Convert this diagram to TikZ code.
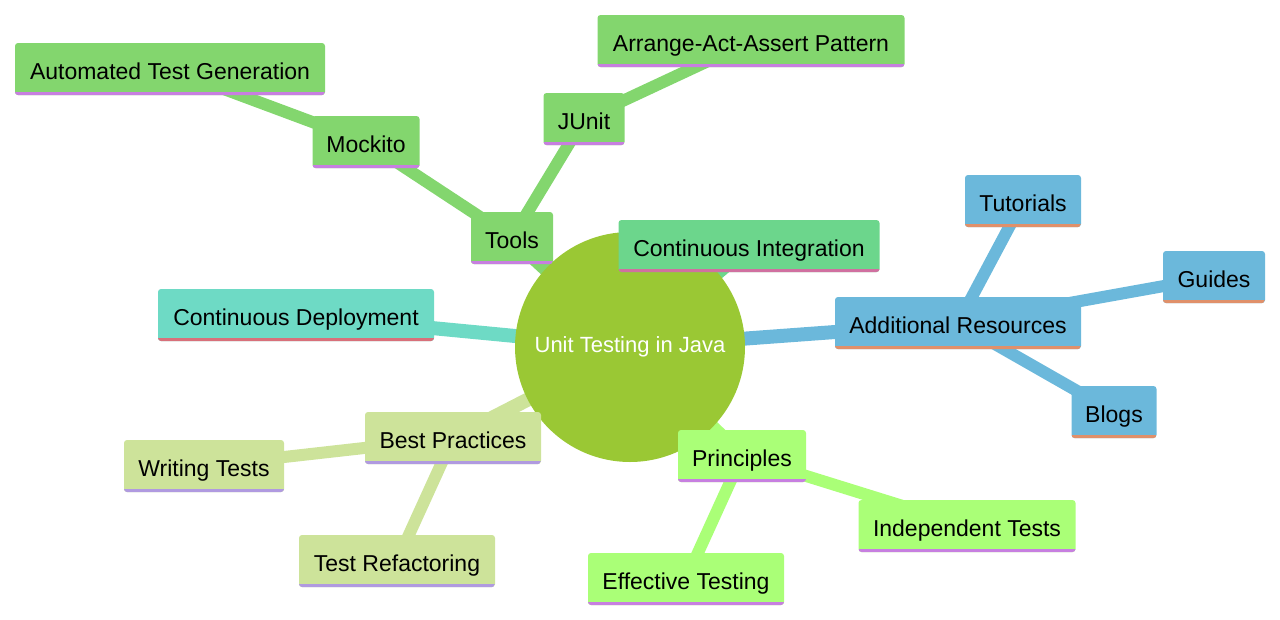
\documentclass[tikz,border=0pt]{standalone}
\usepackage{fontspec}
\setmainfont{Liberation Sans}
\definecolor{gT}{HTML}{83D66E}
\definecolor{uT}{HTML}{C77FE0}
\definecolor{gCI}{HTML}{6CD68C}
\definecolor{uCI}{HTML}{D070A0}
\definecolor{tCD}{HTML}{6EDAC5}
\definecolor{uCD}{HTML}{D8707A}
\definecolor{bA}{HTML}{6BB8DB}
\definecolor{uA}{HTML}{E0906A}
\definecolor{gP}{HTML}{AAFF77}
\definecolor{uP}{HTML}{C77FE0}
\definecolor{gB}{HTML}{CDE39A}
\definecolor{uB}{HTML}{B09AE0}
\definecolor{cC}{HTML}{9AC834}
\begin{document}
\begin{tikzpicture}[x=1pt,y=-1pt,
  box/.style 2 args={rectangle,rounded corners=3pt,fill=#1,minimum height=52pt,inner sep=0pt,
    font=\fontsize{23}{26}\selectfont,text height=22pt,text depth=2pt,
    path picture={\draw[#2,line width=6pt] (path picture bounding box.south west) -- (path picture bounding box.south east);}},
  e1/.style={line width=14pt},
  e2/.style={line width=12pt}]
\useasboundingbox (0,0) rectangle (1280,619);
\coordinate (c) at (630,347);
\coordinate (tools) at (512,238);
\coordinate (mock) at (366,142);
\coordinate (atg) at (170,69);
\coordinate (junit) at (584,119);
\coordinate (aaa) at (751,41);
\coordinate (ci) at (749,246);
\coordinate (cd) at (296,315);
\coordinate (ar) at (958,323);
\coordinate (tut) at (1023,201);
\coordinate (gui) at (1214,277);
\coordinate (blo) at (1114,412);
\coordinate (pri) at (742,456);
\coordinate (ind) at (967,526);
\coordinate (eff) at (686,579);
\coordinate (bp) at (453,438);
\coordinate (wt) at (204,466);
\coordinate (tr) at (397,561);
% edges
\draw[e1,gT] (c) -- (tools);
\draw[e2,gT] (tools) -- (mock); \draw[e2,gT] (mock) -- (atg);
\draw[e2,gT] (tools) -- (junit); \draw[e2,gT] (junit) -- (aaa);
\draw[e1,gCI] (c) -- (ci);
\draw[e1,tCD] (c) -- (cd);
\draw[e1,bA] (c) -- (ar);
\draw[e2,bA] (ar) -- (tut); \draw[e2,bA] (ar) -- (gui); \draw[e2,bA] (ar) -- (blo);
\draw[e1,gP] (c) -- (pri);
\draw[e2,gP] (pri) -- (ind); \draw[e2,gP] (pri) -- (eff);
\draw[e1,gB] (c) -- (bp);
\draw[e2,gB] (bp) -- (wt); \draw[e2,gB] (bp) -- (tr);
\node[circle,fill=cC,minimum size=230pt,text=white,font=\fontsize{22}{24}\selectfont] (center) at (c) {Unit Testing in Java};
\node[box={gT}{uT},minimum width=82pt] (nTools) at (tools) {Tools};
\node[box={gT}{uT},minimum width=107pt] (nMock) at (mock) {Mockito};
\node[box={gT}{uT},minimum width=310pt] (nAtg) at (atg) {Automated Test Generation};
\node[box={gT}{uT},minimum width=81pt] (nJunit) at (junit) {JUnit};
\node[box={gT}{uT},minimum width=307pt] (nAaa) at (aaa) {Arrange-Act-Assert Pattern};
\node[box={gCI}{uCI},minimum width=261pt] (nCi) at (ci) {Continuous Integration};
\node[box={tCD}{uCD},minimum width=276pt] (nCd) at (cd) {Continuous Deployment};
\node[box={bA}{uA},minimum width=246pt] (nAr) at (ar) {Additional Resources};
\node[box={bA}{uA},minimum width=116pt] (nTut) at (tut) {Tutorials};
\node[box={bA}{uA},minimum width=102pt] (nGui) at (gui) {Guides};
\node[box={bA}{uA},minimum width=85pt] (nBlo) at (blo) {Blogs};
\node[box={gP}{uP},minimum width=128pt] (nPri) at (pri) {Principles};
\node[box={gP}{uP},minimum width=217pt] (nInd) at (ind) {Independent Tests};
\node[box={gP}{uP},minimum width=196pt] (nEff) at (eff) {Effective Testing};
\node[box={gB}{uB},minimum width=176pt] (nBp) at (bp) {Best Practices};
\node[box={gB}{uB},minimum width=160pt] (nWt) at (wt) {Writing Tests};
\node[box={gB}{uB},minimum width=196pt] (nTr) at (tr) {Test Refactoring};
\end{tikzpicture}
\end{document}
